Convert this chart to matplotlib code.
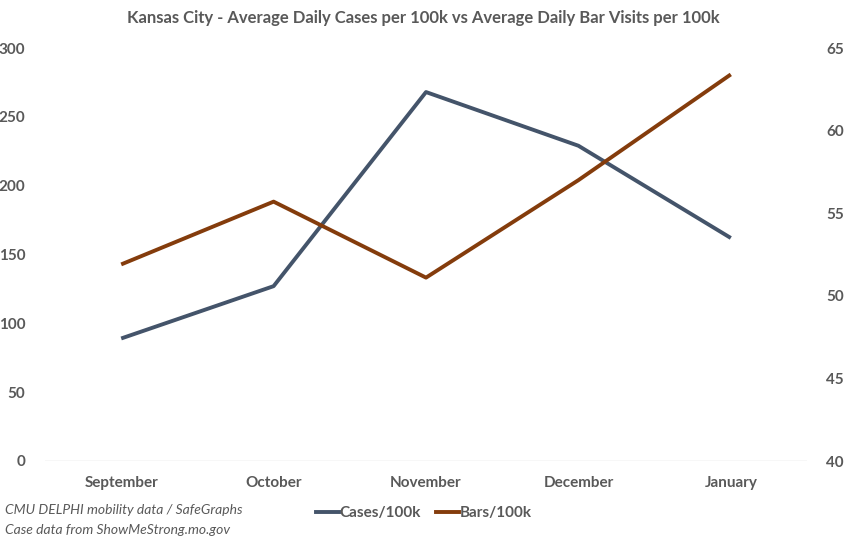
import matplotlib
matplotlib.use("Agg")
import matplotlib.pyplot as plt
from matplotlib.lines import Line2D

# Data
months = ["September", "October", "November", "December", "January"]
cases_per_100k = [89, 127, 268, 229, 162]
bars_per_100k = [51.9, 55.7, 51.1, 57.0, 63.4]

CASES_COLOR = "#44546A"
BARS_COLOR = "#843C0C"
TEXT_COLOR = "#595959"

plt.rcParams["font.family"] = ["Lato", "DejaVu Sans"]

fig = plt.figure(figsize=(8.46, 5.42), dpi=100)
ax = fig.add_axes([45 / 846, 81 / 542, 762 / 846, 413 / 542])
ax2 = ax.twinx()

x = list(range(len(months)))
ax.plot(x, cases_per_100k, color=CASES_COLOR, lw=2.8, solid_capstyle="butt")
ax2.plot(x, bars_per_100k, color=BARS_COLOR, lw=2.8, solid_capstyle="butt")

ax.set_xlim(-0.5, len(months) - 0.5)
ax.set_ylim(0, 300)
ax.set_yticks(range(0, 301, 50))
ax2.set_ylim(40, 65)
ax2.set_yticks(range(40, 66, 5))

ax.set_xticks(x)
ax.set_xticklabels(months)

for a in (ax, ax2):
    for side in ("top", "left", "right", "bottom"):
        a.spines[side].set_visible(False)
    a.tick_params(length=0, colors=TEXT_COLOR, labelsize=11)
    for lbl in a.get_yticklabels() + a.get_xticklabels():
        lbl.set_fontweight("bold")
        lbl.set_color(TEXT_COLOR)

ax.axhline(0, color="#D9D9D9", lw=1, zorder=0)
ax.tick_params(axis="y", pad=14)
ax2.tick_params(axis="y", pad=14)
ax.tick_params(axis="x", pad=11)

fig.text(0.5, 1 - 18 / 542,
         "Kansas City - Average Daily Cases per 100k vs Average Daily Bar Visits per 100k",
         ha="center", va="center", fontsize=12, fontweight="bold", color=TEXT_COLOR)

fig.text(5 / 846, 1 - 510 / 542, "CMU DELPHI mobility data / SafeGraphs",
         ha="left", va="center", fontsize=10, style="italic", color=TEXT_COLOR)
fig.text(5 / 846, 1 - 530 / 542, "Case data from ShowMeStrong.mo.gov",
         ha="left", va="center", fontsize=10, style="italic", color=TEXT_COLOR)

handles = [Line2D([], [], color=CASES_COLOR, lw=2.8),
           Line2D([], [], color=BARS_COLOR, lw=2.8)]
leg = fig.legend(handles, ["Cases/100k", "Bars/100k"], loc="center",
                 bbox_to_anchor=(424 / 846, 1 - 513 / 542), ncol=2, frameon=False,
                 handlelength=1.5, handletextpad=0.05, columnspacing=1.0,
                 prop={"weight": "bold", "size": 11})
for t in leg.get_texts():
    t.set_color(TEXT_COLOR)

fig.savefig("out.png", dpi=100)
